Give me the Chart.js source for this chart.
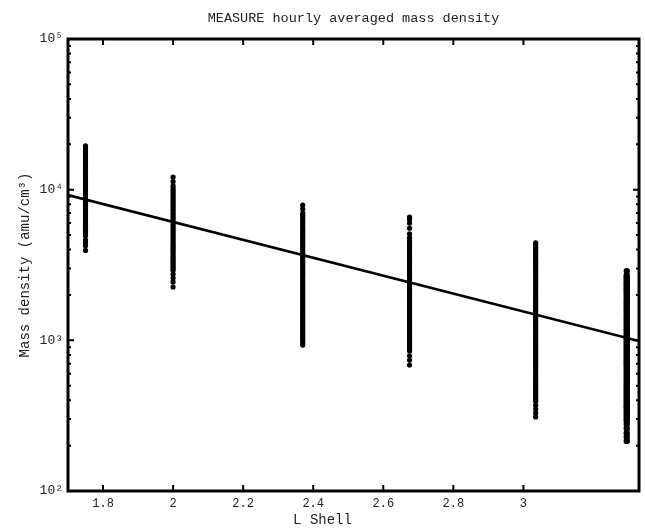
<!DOCTYPE html>
<html>
<head>
<meta charset="utf-8">
<script src="https://cdn.jsdelivr.net/npm/chart.js@4.4.1/dist/chart.umd.min.js"></script>
<style>
  body { margin: 0; background: #fff; }
  #wrap { width: 645px; height: 531px; }
</style>
</head>
<body>
<div id="wrap"><canvas id="graficoDensidade"></canvas></div>
<script>
// L shell of each station and its hourly averaged mass densities (amu/cm^3)
const lShell = [1.75, 2.0, 2.37, 2.675, 3.035, 3.295];
const dens175 = [19500, 18900, 18400, 17800, 17300, 16800, 16300, 15800, 15300, 14800, 14400, 14000, 13600, 13200, 12800, 12400, 12000, 11650, 11300, 10950, 10600, 10300, 10000, 9700, 9400, 9100, 8850, 8600, 8300, 8050, 7800, 7550, 7350, 7100, 6900, 6700, 6500, 6300, 6100, 5900, 5750, 5550, 5400, 5250, 5100, 4950, 4650, 4450, 4250, 3950];
const dens200 = [12100, 11300, 10600, 10250, 9900, 9600, 9300, 9000, 8700, 8450, 8200, 7950, 7700, 7450, 7250, 7000, 6800, 6600, 6400, 6200, 6000, 5820, 5650, 5480, 5300, 5150, 5000, 4850, 4700, 4550, 4400, 4270, 4150, 4020, 3900, 3780, 3650, 3550, 3450, 3350, 3250, 3160, 3080, 3000, 2920, 2750, 2590, 2440, 2260];
const dens237 = [7900, 7450, 7000, 6800, 6600, 6400, 6200, 6020, 5850, 5670, 5500, 5350, 5200, 5050, 4900, 4750, 4600, 4470, 4350, 4220, 4100, 3970, 3850, 3730, 3620, 3510, 3400, 3300, 3200, 3110, 3020, 2930, 2840, 2760, 2680, 2600, 2520, 2440, 2370, 2300, 2230, 2160, 2100, 2040, 1980, 1920, 1860, 1800, 1750, 1700, 1650, 1600, 1550, 1500, 1460, 1420, 1380, 1340, 1300, 1260, 1220, 1180, 1150, 1110, 1080, 1050, 1020, 990, 960, 930];
const dens268 = [6580, 6350, 6000, 5550, 5100, 4800, 4600, 4450, 4300, 4170, 4050, 3920, 3800, 3690, 3580, 3470, 3370, 3270, 3170, 3070, 2980, 2890, 2800, 2720, 2640, 2560, 2480, 2400, 2330, 2260, 2200, 2130, 2070, 2010, 1950, 1890, 1830, 1770, 1720, 1670, 1620, 1570, 1520, 1470, 1430, 1390, 1350, 1310, 1270, 1230, 1190, 1150, 1120, 1090, 1060, 1030, 1000, 970, 940, 915, 890, 870, 850, 790, 740, 686];
const dens304 = [4430, 4300, 4150, 4020, 3900, 3780, 3670, 3560, 3450, 3350, 3250, 3150, 3060, 2970, 2880, 2790, 2710, 2630, 2550, 2470, 2400, 2330, 2260, 2190, 2130, 2060, 2000, 1940, 1880, 1820, 1770, 1720, 1670, 1620, 1570, 1520, 1480, 1430, 1390, 1350, 1310, 1270, 1230, 1190, 1160, 1120, 1090, 1060, 1030, 1000, 970, 940, 910, 885, 860, 835, 810, 785, 760, 738, 715, 695, 675, 655, 635, 616, 598, 580, 563, 546, 530, 515, 500, 485, 470, 456, 442, 429, 416, 404, 392, 370, 350, 330, 310];
const dens330 = [2880, 2700, 2620, 2540, 2460, 2390, 2320, 2250, 2180, 2120, 2060, 2000, 1940, 1880, 1820, 1770, 1720, 1670, 1620, 1570, 1520, 1480, 1430, 1390, 1350, 1310, 1270, 1230, 1190, 1160, 1120, 1090, 1060, 1030, 1000, 970, 940, 910, 885, 860, 835, 810, 785, 760, 738, 715, 695, 675, 655, 635, 616, 598, 580, 563, 546, 530, 515, 500, 485, 470, 456, 442, 429, 416, 404, 392, 380, 370, 360, 350, 340, 330, 320, 310, 300, 292, 278, 260, 242, 228, 215];
const stations = [dens175, dens200, dens237, dens268, dens304, dens330];

// fitted power law line
const fitL = [1.7, 3.33];
const fitDens = [9200, 990];

const xTicks = [1.8, 2, 2.2, 2.4, 2.6, 2.8, 3];
const yTicks = [100, 1000, 10000, 100000];
const sup = { 2: '\u00b2', 3: '\u00b3', 4: '\u2074', 5: '\u2075' };
const xLabel = 'L Shell';

const mono = '"Liberation Mono", "DejaVu Sans Mono", monospace';

// MATLAB style box with inward ticks (major + log minor)
const frame = {
  id: 'frame',
  afterDraw(chart) {
    const { ctx, chartArea: a, scales: { x, y } } = chart;
    ctx.save();
    ctx.strokeStyle = '#000';
    ctx.lineWidth = 2;
    ctx.beginPath();
    xTicks.forEach(v => {
      const px = x.getPixelForValue(v);
      ctx.moveTo(px, a.bottom); ctx.lineTo(px, a.bottom - 6);
      ctx.moveTo(px, a.top); ctx.lineTo(px, a.top + 6);
    });
    for (let e = 2; e < 5; e++) {
      for (let m = 1; m < 10; m++) {
        const py = y.getPixelForValue(m * Math.pow(10, e));
        const len = m === 1 ? 6 : 3;
        ctx.moveTo(a.left, py); ctx.lineTo(a.left + len, py);
        ctx.moveTo(a.right, py); ctx.lineTo(a.right - len, py);
      }
    }
    ctx.stroke();
    ctx.lineWidth = 3;
    ctx.strokeRect(a.left, a.top, a.right - a.left, a.bottom - a.top);
    // x axis label, centred on the figure like the original
    ctx.fillStyle = '#222';
    ctx.font = '14px ' + mono;
    ctx.textAlign = 'center';
    ctx.textBaseline = 'middle';
    ctx.fillText(xLabel, chart.width / 2, 520);
    ctx.restore();
  }
};

const datasets = stations.map((vals, i) => ({
  data: vals.map(v => ({ x: lShell[i], y: v })),
  pointRadius: i === stations.length - 1 ? 3.2 : 2.6,
  pointBorderWidth: 0,
  pointBackgroundColor: '#000',
  showLine: false
}));
datasets.push({
  data: fitL.map((l, i) => ({ x: l, y: fitDens[i] })),
  showLine: true,
  borderColor: '#000',
  borderWidth: 2.6,
  pointRadius: 0
});

new Chart(document.getElementById('graficoDensidade').getContext('2d'), {
  type: 'scatter',
  data: { datasets },
  options: {
    responsive: true,
    maintainAspectRatio: false,
    animation: false,
    layout: { padding: { left: 0, right: 6, top: 0, bottom: 0 } },
    plugins: {
      legend: { display: false },
      tooltip: { enabled: false },
      title: {
        display: true,
        fullSize: false,
        text: 'MEASURE hourly averaged mass density',
        color: '#222',
        font: { family: mono, size: 13.5, weight: 'normal' },
        padding: { top: 10, bottom: 12.8 }
      }
    },
    scales: {
      x: {
        type: 'linear',
        min: 1.7,
        max: 3.33,
        grid: { display: false, drawTicks: false, tickLength: 0 },
        border: { display: false },
        afterBuildTicks: s => { s.ticks = xTicks.map(v => ({ value: v })); },
        afterFit: s => { s.height = 40; },
        ticks: {
          color: '#222',
          padding: 6,
          maxRotation: 0,
          font: { family: mono, size: 12 },
          callback: v => String(v)
        },
        title: { display: false, text: xLabel }
      },
      y: {
        type: 'logarithmic',
        min: 100,
        max: 100000,
        grid: { display: false, drawTicks: false, tickLength: 0 },
        border: { display: false },
        afterBuildTicks: s => { s.ticks = yTicks.map(v => ({ value: v })); },
        afterFit: s => { s.width = 68; },
        ticks: {
          color: '#222',
          padding: 5,
          font: { family: mono, size: 13 },
          callback: v => '10' + sup[Math.round(Math.log10(v))]
        },
        title: {
          display: true,
          text: 'Mass density (amu/cm\u00b3)',
          color: '#222',
          font: { family: mono, size: 14 },
          padding: { top: 17, bottom: 0 }
        }
      }
    }
  },
  plugins: [frame]
});
</script>
</body>
</html>
